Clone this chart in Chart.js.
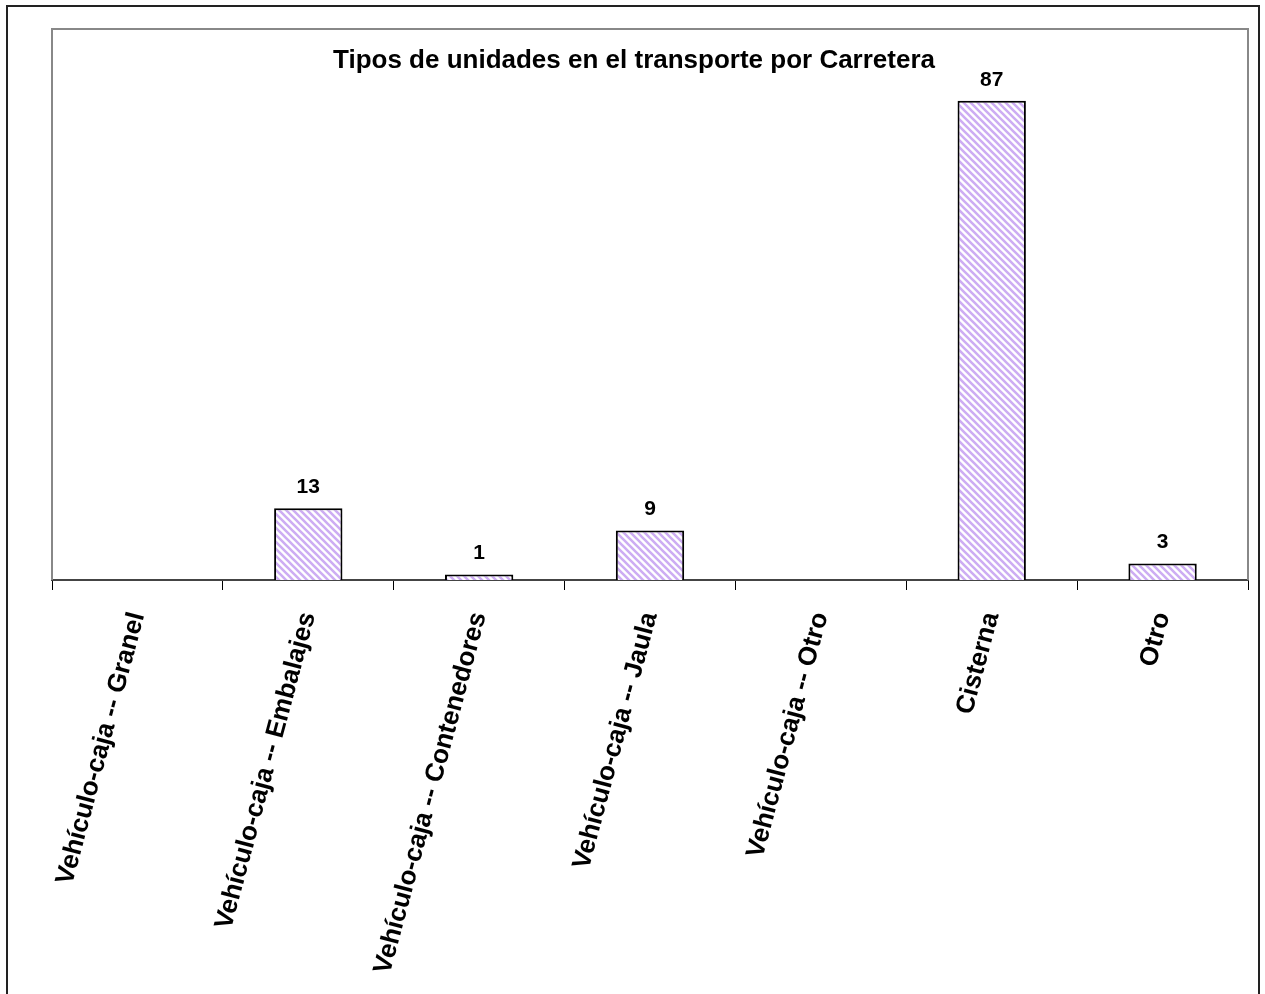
<!DOCTYPE html>
<html lang="es">
  <head>
    <meta charset="UTF-8" />
    <script src="https://cdn.jsdelivr.net/npm/chart.js@4.4.0/dist/chart.umd.min.js"></script>
    <title>Tipos de unidades</title>
    <style>
      body { margin: 0; background: #fff; }
      #wrap { width: 1265px; height: 994px; }
    </style>
  </head>
  <body>
    <div id="wrap"><canvas id="myChart" width="1265" height="994"></canvas></div>

    <script>
      const chartTitle = 'Tipos de unidades en el transporte por Carretera';
      const categories = [
        'Vehículo-caja -- Granel',
        'Vehículo-caja -- Embalajes',
        'Vehículo-caja -- Contenedores',
        'Vehículo-caja -- Jaula',
        'Vehículo-caja -- Otro',
        'Cisterna',
        'Otro'
      ];
      const values = [0, 13, 1, 9, 0, 87, 3];
      const yMin = 0;
      const yMax = 100;

      const FONT = '"Liberation Sans", Arial, sans-serif';

      // striped fill like the original hatch
      function makeHatch() {
        const n = 7;
        const c = document.createElement('canvas');
        c.width = n; c.height = n;
        const g = c.getContext('2d');
        g.fillStyle = '#ffffff';
        g.fillRect(0, 0, n, n);
        g.strokeStyle = '#cdadf3';
        g.lineWidth = 2.6;
        g.beginPath();
        g.moveTo(-2, -2); g.lineTo(n + 2, n + 2);
        g.moveTo(-n - 2, -2); g.lineTo(2, n + 2);
        g.moveTo(n - 2, -2); g.lineTo(2 * n + 2, n + 2);
        g.stroke();
        return g.createPattern(c, 'repeat');
      }

      const framePlugin = {
        id: 'frame',
        afterDraw(chart) {
          const ctx = chart.ctx;
          const a = chart.chartArea;
          ctx.save();
          // outer frame
          ctx.strokeStyle = '#222';
          ctx.lineWidth = 2;
          ctx.strokeRect(7, 6, 1252, 1000);
          // plot area border (top, left, right)
          ctx.strokeStyle = '#888';
          ctx.lineWidth = 2;
          ctx.beginPath();
          ctx.moveTo(a.left, a.bottom);
          ctx.lineTo(a.left, a.top);
          ctx.lineTo(a.right, a.top);
          ctx.lineTo(a.right, a.bottom);
          ctx.stroke();
          // title inside plot
          ctx.fillStyle = '#000';
          ctx.font = 'bold 26px ' + FONT;
          ctx.textAlign = 'center';
          ctx.textBaseline = 'alphabetic';
          ctx.fillText(chartTitle, (a.left + a.right) / 2 - 16, 68);
          // value labels
          ctx.font = 'bold 21px ' + FONT;
          const meta = chart.getDatasetMeta(0);
          meta.data.forEach((bar, i) => {
            if (!values[i]) return;
            ctx.fillText(String(values[i]), bar.x, bar.y - 15);
          });
          ctx.restore();
        }
      };

      const ctx = document.getElementById('myChart');
      const myChart = new Chart(ctx, {
        type: 'bar',
        data: {
          labels: categories,
          datasets: [{
            data: values,
            backgroundColor: makeHatch(),
            borderColor: '#000',
            borderWidth: 2,
            borderSkipped: 'bottom',
            barPercentage: 0.40,
            categoryPercentage: 1.0
          }]
        },
        options: {
          responsive: false,
          animation: false,
          layout: { padding: { left: 52, right: 17, top: 29, bottom: 0 } },
          plugins: {
            legend: { display: false },
            tooltip: { enabled: false }
          },
          scales: {
            y: {
              display: false,
              min: yMin,
              max: yMax
            },
            x: {
              afterFit(scale) { scale.height = 414; },
              border: { color: '#444', width: 2 },
              grid: {
                display: true,
                drawOnChartArea: false,
                drawTicks: true,
                tickLength: 10,
                color: '#000',
                offset: true
              },
              ticks: {
                color: '#000',
                minRotation: 75,
                maxRotation: 75,
                autoSkip: false,
                padding: 19,
                font: { family: FONT, size: 26, weight: 'bold' }
              }
            }
          }
        },
        plugins: [framePlugin]
      });
    </script>
  </body>
</html>
